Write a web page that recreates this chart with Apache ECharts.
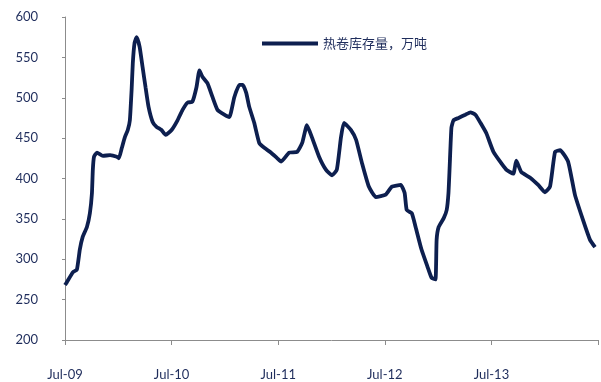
<!DOCTYPE html>
<html>
<head>
<meta charset="utf-8">
<script src="https://cdn.jsdelivr.net/npm/echarts@6/dist/echarts.min.js"></script>
<style>
  html, body { margin: 0; padding: 0; background: #ffffff; }
  #chart { width: 601px; height: 382px; }
</style>
</head>
<body>
<div id="chart"></div>
<script>
// Hot-rolled coil inventory (10k tonnes), sampled dates
const dates = [
  '2009-07-01','2009-07-08','2009-07-28','2009-08-11','2009-08-21','2009-09-01','2009-09-15','2009-09-25',
  '2009-10-02','2009-10-05','2009-10-09','2009-10-19','2009-11-09','2009-12-03','2009-12-26','2010-01-03',
  '2010-01-13','2010-01-23','2010-02-03','2010-02-10','2010-02-16','2010-02-20','2010-02-26','2010-03-03',
  '2010-03-13','2010-03-23','2010-04-03','2010-04-13','2010-04-27','2010-05-10','2010-05-27','2010-06-11',
  '2010-07-01','2010-07-21','2010-08-08','2010-08-25','2010-09-11','2010-09-25','2010-10-05','2010-10-15',
  '2010-11-02','2010-11-19','2010-12-06','2010-12-29','2011-01-16','2011-02-03','2011-02-20','2011-03-01',
  '2011-03-13','2011-03-23','2011-04-10','2011-04-27','2011-05-14','2011-06-07','2011-06-28','2011-07-11',
  '2011-08-08','2011-09-05','2011-09-22','2011-10-08','2011-10-25','2011-11-19','2011-12-12','2012-01-03',
  '2012-01-19','2012-02-03','2012-02-13','2012-03-07','2012-03-24','2012-04-14','2012-05-07','2012-06-01',
  '2012-07-04','2012-07-25','2012-08-25','2012-09-08','2012-09-15','2012-10-02','2012-10-15','2012-11-05',
  '2012-11-25','2012-12-09','2012-12-22','2012-12-26','2013-01-03','2013-01-20','2013-01-30','2013-02-06',
  '2013-02-10','2013-02-16','2013-02-23','2013-03-10','2013-04-03','2013-04-20','2013-05-07','2013-05-24',
  '2013-06-14','2013-07-08','2013-08-21','2013-09-15','2013-09-25','2013-10-12','2013-11-12','2013-12-09',
  '2014-01-02','2014-01-19','2014-02-06','2014-02-23','2014-03-20','2014-04-13','2014-05-10','2014-06-04',
  '2014-06-21'
];

const inventory = [
  268, 272, 284, 287, 312, 328, 340, 357,
  382, 411, 427, 432, 428, 429, 427, 425,
  438, 451, 460, 472, 510, 543, 568, 575,
  563, 538, 513, 489, 470, 464, 460, 454,
  460, 472, 485, 494, 495, 513, 534, 526,
  518, 501, 485, 479, 476, 501, 516, 516,
  506, 489, 469, 444, 438, 432, 425, 421,
  432, 433, 444, 466, 451, 427, 411, 404,
  411, 451, 469, 460, 448, 419, 390, 377,
  380, 390, 392, 382, 361, 357, 340, 312,
  291, 277, 275, 324, 340, 351, 361, 382,
  414, 463, 472, 475, 479, 482, 479, 469,
  456, 433, 411, 406, 422, 408, 401, 392,
  383, 390, 433, 435, 421, 380, 349, 324,
  315
];

// Axis labels, one per July
const xTickLabels = ['Jul-09', 'Jul-10', 'Jul-11', 'Jul-12', 'Jul-13', ''];
const seriesName = '热卷库存量，万吨';

// months elapsed since 2009-07-01
function monthOffset(s) {
  const [y, m, d] = s.split('-').map(Number);
  return (y - 2009) * 12 + (m - 7) + (d - 1) / 30;
}

const points = dates.map((d, i) => [monthOffset(d), inventory[i]]);

const textColor = '#1f2d5c';
const lineColor = '#0d1f4f';
const fontFamily = 'Lato, "Noto Sans", "Noto Sans CJK SC", sans-serif';

const chart = echarts.init(document.getElementById('chart'), null, { renderer: 'canvas' });
chart.setOption({
  backgroundColor: '#ffffff',
  animation: false,
  textStyle: { fontFamily: fontFamily },
  grid: { left: 65, right: 2, top: 17, bottom: 42 },
  legend: {
    data: [{ name: seriesName, icon: 'rect' }],
    left: 257,
    top: 32,
    itemWidth: 56,
    itemHeight: 4,
    itemGap: 4,
    textStyle: { color: textColor, fontSize: 13, fontFamily: '"Noto Sans CJK SC", sans-serif' }
  },
  xAxis: {
    type: 'value',
    min: 0,
    max: 60,
    interval: 12,
    axisLine: { show: true, lineStyle: { color: '#8c8c8c', width: 1 } },
    axisTick: { show: true, length: 5, lineStyle: { color: '#8c8c8c' } },
    splitLine: { show: false },
    axisLabel: {
      margin: 28,
      color: textColor,
      fontSize: 13,
      formatter: v => xTickLabels[Math.round(v / 12)] || ''
    }
  },
  yAxis: {
    type: 'value',
    min: 200,
    max: 600,
    interval: 50,
    axisLine: { show: true, lineStyle: { color: '#8c8c8c', width: 1 } },
    axisTick: { show: true, length: 3, lineStyle: { color: '#8c8c8c' } },
    splitLine: { show: false },
    axisLabel: { margin: 27, color: textColor, fontSize: 13 }
  },
  series: [{
    name: seriesName,
    type: 'line',
    data: points,
    showSymbol: false,
    symbol: 'none',
    smooth: 0.15,
    lineStyle: { color: lineColor, width: 3.8 },
    itemStyle: { color: lineColor }
  }]
});
</script>
</body>
</html>
